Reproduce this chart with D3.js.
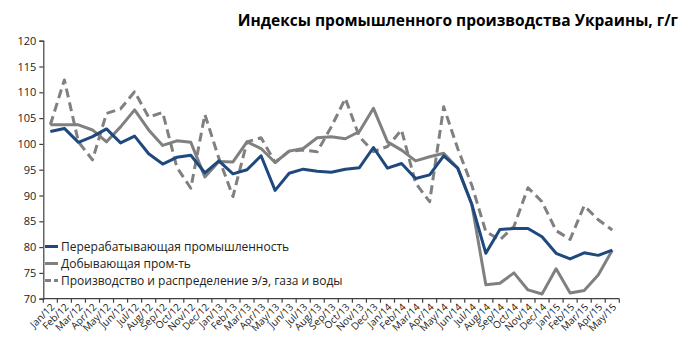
<!DOCTYPE html>
<html><head><meta charset="utf-8">
<script src="https://cdn.jsdelivr.net/npm/d3@7"></script>
<style>html,body{margin:0;padding:0;background:#fff;}</style>
</head><body><svg id="c" width="688" height="354"></svg>
<script>
const months = ["Jan/12","Feb/12","Mar/12","Apr/12","May/12","Jun/12","Jul/12","Aug/12","Sep/12","Oct/12","Nov/12","Dec/12",
"Jan/13","Feb/13","Mar/13","Apr/13","May/13","Jun/13","Jul/13","Aug/13","Sep/13","Oct/13","Nov/13","Dec/13",
"Jan/14","Feb/14","Mar/14","Apr/14","May/14","Jun/14","Jul/14","Aug/14","Sep/14","Oct/14","Nov/14","Dec/14",
"Jan/15","Feb/15","Mar/15","Apr/15","May/15"];
const processing = [102.4,103.0,100.3,101.4,102.9,100.2,101.5,98.1,96.1,97.4,97.8,94.4,96.7,94.2,95.0,97.7,91.0,94.3,95.1,94.7,94.5,95.1,95.4,99.3,95.3,96.2,93.3,94.0,97.7,95.3,88.3,78.8,83.4,83.6,83.6,82.0,78.8,77.7,78.9,78.4,79.4];
const mining = [103.7,103.7,103.7,102.7,100.4,103.3,106.6,102.7,99.7,100.6,100.3,93.6,96.6,96.5,100.4,99.1,96.4,98.6,99.1,101.2,101.4,101.0,102.4,106.9,100.4,98.8,96.7,97.5,98.2,95.3,88.3,72.7,73.0,75.0,71.7,70.9,75.8,71.1,71.6,74.6,79.4];
const utilities = [103.7,112.4,100.4,96.9,105.9,106.8,110.1,105.2,106.1,95.5,91.4,105.7,97.2,89.8,100.4,101.2,96.4,98.6,98.8,98.5,103.3,108.8,101.4,98.5,99.5,102.7,92.4,88.8,107.2,99.1,92.0,83.0,81.4,84.0,91.5,88.8,83.2,81.5,88.0,85.3,83.3];
const yTicks = [70,75,80,85,90,95,100,105,110,115,120];
const seriesNames = ["Перерабатывающая промышленность","Добывающая пром-ть","Производство и распределение э/э, газа и воды"];
const titleText = "Индексы промышленного производства Украины, г/г";

const svg = d3.select("#c");
const font = "'Open Sans', 'DejaVu Sans', sans-serif";
const x = d3.scaleBand().domain(months).range([43.3, 619.3]);
const y = d3.scaleLinear().domain([70,120]).range([298.7, 40.7]);
const axisColor = "#404040";

// title
svg.append("text").attr("x", 678).attr("y", 26).attr("text-anchor","end")
  .attr("font-family", font).attr("font-weight","bold").attr("font-size", 15.5)
  .attr("fill","#000").text(titleText);

// y axis
const ya = svg.append("g").attr("transform","translate(43.3,0)")
  .call(d3.axisLeft(y).tickValues(yTicks).tickSize(4).tickPadding(3));
ya.select(".domain").attr("stroke", axisColor).attr("stroke-width",1.2);
ya.selectAll(".tick line").attr("stroke", axisColor).attr("stroke-width",1.2);
ya.selectAll("text").attr("font-family", font).attr("font-size", 11).attr("fill","#222");

// x axis
const xa = svg.append("g").attr("transform","translate(0,298.7)");
xa.append("line").attr("x1",x.range()[0]).attr("x2",x.range()[1]).attr("stroke",axisColor).attr("stroke-width",1.2);
const bounds = months.map(m=>x(m)).concat([x.range()[1]]);
xa.selectAll("line.tk").data(bounds).enter().append("line").attr("class","tk")
  .attr("x1",d=>d).attr("x2",d=>d).attr("y1",0).attr("y2",4).attr("stroke",axisColor).attr("stroke-width",1.2);
xa.selectAll("text").data(months).enter().append("text")
  .attr("transform", d=>`translate(${x(d)+x.bandwidth()/2+3},${7}) rotate(-45)`)
  .attr("text-anchor","end").attr("dominant-baseline","middle")
  .attr("font-family", font).attr("font-size", 10).attr("fill","#222").text(d=>d);

const line = d3.line().x((d,i)=>x(months[i])+x.bandwidth()/2).y(d=>y(d));
const styles = [
  {data: processing, color:"#1F497D", dash:null},
  {data: mining, color:"#808080", dash:null},
  {data: utilities, color:"#808080", dash:"9,5"}
];
// draw order: utilities, mining, processing on top
[styles[2], styles[1], styles[0]].forEach(s=>{
  svg.append("path").datum(s.data).attr("d", line).attr("fill","none")
    .attr("stroke", s.color).attr("stroke-width", 3).attr("stroke-linejoin","round")
    .attr("stroke-dasharray", s.dash);
});

// legend
const lg = svg.append("g");
styles.forEach((s,i)=>{
  const yy = 246.5 + i*17;
  lg.append("line").attr("x1",45).attr("x2",58).attr("y1",yy).attr("y2",yy)
    .attr("stroke",s.color).attr("stroke-width",3).attr("stroke-dasharray", s.dash ? "6,3" : null);
  lg.append("text").attr("x",61).attr("y",yy).attr("dominant-baseline","central")
    .attr("font-family", font).attr("font-size", 12).attr("fill","#222").text(seriesNames[i]);
});
</script></body></html>
